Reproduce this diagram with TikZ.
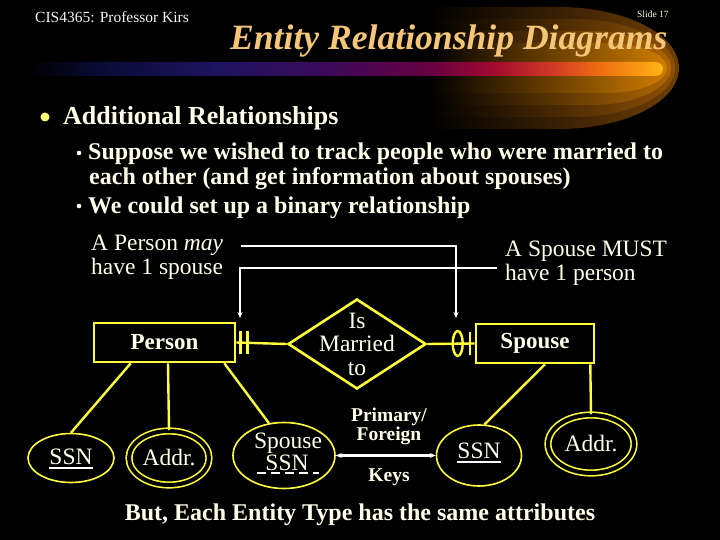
\documentclass[tikz,border=0pt]{standalone}
\usepackage{fontspec}
\setmainfont{Liberation Serif}
\usetikzlibrary{shapes.geometric,arrows.meta}
\definecolor{ylw}{RGB}{255,255,60}
\definecolor{cream}{RGB}{255,255,235}
\definecolor{ttlc}{RGB}{245,198,120}
\definecolor{bA}{HTML}{0A0A35}
\definecolor{bB}{HTML}{1E1460}
\definecolor{bC}{HTML}{3A0A5A}
\definecolor{bD}{HTML}{6A0040}
\definecolor{bE}{HTML}{A00A30}
\definecolor{bF}{HTML}{D03A25}
\definecolor{bG}{HTML}{F07010}
\definecolor{bH}{HTML}{FFB515}
\definecolor{gA}{HTML}{6E3E06}
\definecolor{gB}{HTML}{8E5005}
\definecolor{gC}{HTML}{B06603}
\definecolor{gD}{HTML}{D07C00}
\pgfdeclarehorizontalshading{barshade}{100bp}{color(0bp)=(black); color(25bp)=(black); color(30.6bp)=(bA); color(39.9bp)=(bB); color(48.4bp)=(bC); color(57bp)=(bD); color(61.6bp)=(bE); color(66.3bp)=(bF); color(70.2bp)=(bG); color(75bp)=(bH); color(100bp)=(bH)}
\newcommand\fsz[1]{\fontsize{#1}{#1}\selectfont}
% glow band: #1 half height, #2 right end x, #3 end radius, #4 colour
\newcommand\glowband[4]{%
  \shade[left color=black, right color=#4]
    (430,{68-#1}) -- ({#2-#3},{68-#1})
    .. controls ({#2-0.448*#3},{68-#1}) and (#2,{68-0.552*#1}) .. (#2,68)
    .. controls (#2,{68+0.552*#1}) and ({#2-0.448*#3},{68+#1}) .. ({#2-#3},{68+#1})
    -- (430,{68+#1}) -- cycle;}
\begin{document}
\begin{tikzpicture}[x=1pt,y=-1pt,
 txt/.style={text=cream, inner sep=0pt},
 reg/.style={txt, font=\fsz{23.5}},
 bld/.style={txt, font=\bfseries\fsz{24}},
 ent/.style={rectangle, draw=ylw, line width=2.6pt, minimum height=39pt, inner sep=0pt, text=cream, font=\bfseries\fsz{23}},
 att/.style={ellipse, draw=ylw, line width=1.6pt, inner sep=0pt, text=cream, font=\fsz{23.5}},
 matt/.style={att, double=black, double distance=4pt},
 yl/.style={draw=ylw, line width=2.4pt},
 wl/.style={draw=white, line width=2.2pt},
 tip/.style={-{Stealth[length=6pt,width=5pt]}},
 dtip/.style={{Stealth[length=6pt,width=5pt]}-{Stealth[length=6pt,width=5pt]}},
]
\useasboundingbox (0,0) rectangle (720,540);
\fill[black] (0,0) rectangle (720,540);
% glow
\glowband{61}{679}{120}{gA}
\glowband{49}{675}{100}{gB}
\glowband{37}{671}{80}{gC}
\glowband{25}{667}{60}{gD}
% bar
\shade[shading=barshade, rounded corners=7pt] (28,62) rectangle (663,76);
% header
\node[txt, anchor=base west, font=\fsz{15.5}, text=white!92!gray] (hdr) at (35,23) {CIS4365: Professor Kirs};
\node[txt, anchor=base west, font=\fsz{9.5}] (sld) at (637,18) {Slide 17};
\node[txt, anchor=base west, text=ttlc, font=\bfseries\itshape\fsz{35.6}] (ttl) at (230,50) {Entity Relationship Diagrams};
% bullets
\fill[ylw!70!white] (45,117) circle (4.5pt);
\node[txt, anchor=base west, font=\bfseries\fsz{26}] (h1) at (63,125) {Additional Relationships};
\fill[cream] (79,153) circle (2.3pt);
\fill[cream] (79,206) circle (2.3pt);
\node[bld, anchor=base west] (s1) at (88,160) {Suppose we wished to track people who were married to};
\node[bld, anchor=base west] (s2) at (89,185) {each other (and get information about spouses)};
\node[bld, anchor=base west] (s3) at (88,214) {We could set up a binary relationship};
% cardinality notes
\node[reg, anchor=base west] (lp1) at (91,251) {A Person \emph{may}};
\node[reg, anchor=base west] (lp2) at (91,274) {have 1 spouse};
\node[reg, anchor=base west] (ls1) at (505,256) {A Spouse MUST};
\node[reg, anchor=base west] (ls2) at (505,280) {have 1 person};
\coordinate (c1) at (241,246);
\coordinate (c1e) at (456,318);
\coordinate (c2) at (497,268);
\coordinate (c2e) at (240,318);
\draw[wl, tip] (c1) -| (c1e);
\draw[wl, tip] (c2) -| (c2e);
% entities & relationship
\node[ent, minimum width=141pt] (person) at (164.5,342.5) {Person};
\node[ent, minimum width=118pt] (spouse) at (535,343.5) {Spouse};
\node[diamond, draw=ylw, line width=2.6pt, minimum width=138pt, minimum height=90pt, inner sep=0pt] (rel) at (357,344) {};
\node[txt, align=center, font=\fsz{23.5}] (relt) at (357,344) {Is\\Married\\to};
\draw[yl] (person.east) -- (rel.west);
\draw[yl] (rel.east) -- (spouse.west);
\draw[yl] ([xshift=4pt]person.east) ++(0,-11.5) -- ++(0,23);
\draw[yl] ([xshift=11pt]person.east) ++(0,-11.5) -- ++(0,23);
\draw[yl] ([xshift=-5pt]spouse.west) ++(0,-11.5) -- ++(0,23);
\draw[yl] ([xshift=-17pt]spouse.west) ellipse [x radius=5pt, y radius=12.5pt];
% attributes
\node[att, minimum width=86pt, minimum height=49pt] (ssn1) at (71,458) {};
\node[reg, anchor=base] (ssn1t) at (71,464) {SSN};
\draw[white, line width=2pt] ([yshift=-3.5pt]ssn1t.base west) -- ([yshift=-3.5pt]ssn1t.base east);
\node[matt, minimum width=80pt, minimum height=54pt] (addr1) at (169,458) {Addr.};
\node[att, minimum width=102pt, minimum height=66pt] (spssn) at (284,455.5) {};
\node[reg, anchor=base] (spssnt1) at (288,448) {Spouse};
\node[reg, anchor=base] (spssnt) at (287,470) {SSN};
\draw[white, line width=2.2pt, dash pattern=on 9pt off 5pt] ([xshift=-8pt, yshift=-3pt]spssnt.base west) -- ([xshift=10pt, yshift=-3pt]spssnt.base east);
\node[att, minimum width=85pt, minimum height=61pt] (sssn) at (479,455.5) {};
\node[reg, anchor=base] (sssnt) at (479,458) {SSN};
\draw[white, line width=2pt] ([yshift=-3.5pt]sssnt.base west) -- ([yshift=-3.5pt]sssnt.base east);
\node[matt, minimum width=86pt, minimum height=58pt] (saddr) at (591,444) {Addr.};
\draw[yl] ([xshift=38pt]person.south west) -- (ssn1.north);
\draw[yl] ([xshift=3.5pt]person.south) -- (addr1.north);
\draw[yl] ([xshift=-12pt]person.south east) -- (spssn.115);
\draw[yl] ([xshift=10pt]spouse.south) -- (sssn.80);
\draw[yl] ([xshift=-5pt]spouse.south east) -- (saddr.north);
% keys
\draw[wl, dtip] (spssn.east) -- (sssn.west);
\node[txt, anchor=base, font=\bfseries\fsz{19.5}] (pk1) at (389,421) {Primary/};
\node[txt, anchor=base, font=\bfseries\fsz{19.5}] (pk2) at (389,440) {Foreign};
\node[txt, anchor=base, font=\bfseries\fsz{19.5}] (pk3) at (389,481) {Keys};
% bottom
\node[bld, anchor=base] (bot) at (360,520) {But, Each Entity Type has the same attributes};
\end{tikzpicture}
\end{document}
